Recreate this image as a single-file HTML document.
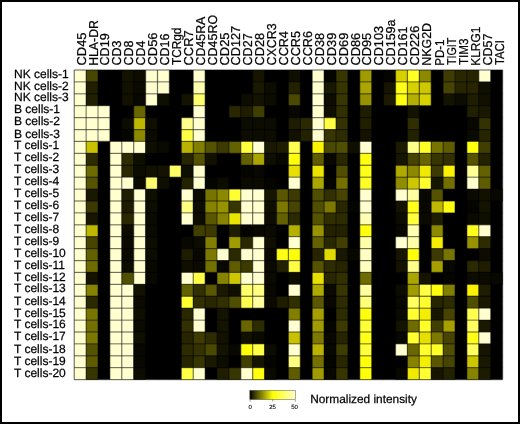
<!DOCTYPE html><html><head><meta charset="utf-8"><title>Heatmap</title><style>html,body{margin:0;padding:0;background:#fff}svg{display:block}text{font-family:"Liberation Sans",Arial,Helvetica,sans-serif;fill:#000;stroke:#000;stroke-width:0.25px;text-rendering:geometricPrecision}text.k{stroke-width:0.1px;fill:#000}</style></head><body>
<svg width="520" height="424" viewBox="0 0 520 424">
<rect x="0" y="0" width="520" height="424" fill="#000"/><rect x="2" y="2" width="516" height="420" fill="#fff"/>
<defs><linearGradient id="g" x1="0" x2="1" y1="0" y2="0"><stop offset="0" stop-color="#000"/><stop offset="0.5" stop-color="#ffff00"/><stop offset="1" stop-color="#ffffcc"/></linearGradient></defs>
<g>
<rect x="74.20" y="70.00" width="428.40" height="309.61" fill="#000"/>
<rect x="74.20" y="70.00" width="11.90" height="11.91" fill="#ffffd0"/>
<rect x="86.10" y="70.00" width="11.90" height="11.91" fill="#484600"/>
<rect x="121.80" y="70.00" width="11.90" height="11.91" fill="#141300"/>
<rect x="133.70" y="70.00" width="11.90" height="11.91" fill="#0c0c00"/>
<rect x="145.60" y="70.00" width="11.90" height="11.91" fill="#ffffd0"/>
<rect x="157.50" y="70.00" width="11.90" height="11.91" fill="#ffffd0"/>
<rect x="193.20" y="70.00" width="11.90" height="11.91" fill="#ffffd0"/>
<rect x="252.70" y="70.00" width="11.90" height="11.91" fill="#161500"/>
<rect x="288.40" y="70.00" width="11.90" height="11.91" fill="#0f0f00"/>
<rect x="312.20" y="70.00" width="11.90" height="11.91" fill="#ffffd0"/>
<rect x="324.10" y="70.00" width="11.90" height="11.91" fill="#050500"/>
<rect x="336.00" y="70.00" width="11.90" height="11.91" fill="#373500"/>
<rect x="359.80" y="70.00" width="11.90" height="11.91" fill="#a09b00"/>
<rect x="383.60" y="70.00" width="11.90" height="11.91" fill="#050500"/>
<rect x="395.50" y="70.00" width="11.90" height="11.91" fill="#d7d100"/>
<rect x="407.40" y="70.00" width="11.90" height="11.91" fill="#ffff23"/>
<rect x="419.30" y="70.00" width="11.90" height="11.91" fill="#8c8800"/>
<rect x="443.10" y="70.00" width="11.90" height="11.91" fill="#3e3c00"/>
<rect x="455.00" y="70.00" width="11.90" height="11.91" fill="#282700"/>
<rect x="466.90" y="70.00" width="11.90" height="11.91" fill="#262500"/>
<rect x="478.80" y="70.00" width="11.90" height="11.91" fill="#ffffd0"/>
<rect x="74.20" y="81.91" width="11.90" height="11.91" fill="#ffffd0"/>
<rect x="86.10" y="81.91" width="11.90" height="11.91" fill="#201f00"/>
<rect x="121.80" y="81.91" width="11.90" height="11.91" fill="#121100"/>
<rect x="133.70" y="81.91" width="11.90" height="11.91" fill="#0a0a00"/>
<rect x="145.60" y="81.91" width="11.90" height="11.91" fill="#ffffd0"/>
<rect x="157.50" y="81.91" width="11.90" height="11.91" fill="#ffffd0"/>
<rect x="193.20" y="81.91" width="11.90" height="11.91" fill="#ffffaf"/>
<rect x="252.70" y="81.91" width="11.90" height="11.91" fill="#191800"/>
<rect x="264.60" y="81.91" width="11.90" height="11.91" fill="#0c0c00"/>
<rect x="288.40" y="81.91" width="11.90" height="11.91" fill="#232200"/>
<rect x="312.20" y="81.91" width="11.90" height="11.91" fill="#ffffd0"/>
<rect x="324.10" y="81.91" width="11.90" height="11.91" fill="#191800"/>
<rect x="336.00" y="81.91" width="11.90" height="11.91" fill="#373500"/>
<rect x="359.80" y="81.91" width="11.90" height="11.91" fill="#aaa500"/>
<rect x="383.60" y="81.91" width="11.90" height="11.91" fill="#161500"/>
<rect x="395.50" y="81.91" width="11.90" height="11.91" fill="#ffff19"/>
<rect x="407.40" y="81.91" width="11.90" height="11.91" fill="#d7d100"/>
<rect x="419.30" y="81.91" width="11.90" height="11.91" fill="#cdc700"/>
<rect x="443.10" y="81.91" width="11.90" height="11.91" fill="#464400"/>
<rect x="455.00" y="81.91" width="11.90" height="11.91" fill="#262500"/>
<rect x="466.90" y="81.91" width="11.90" height="11.91" fill="#262500"/>
<rect x="478.80" y="81.91" width="11.90" height="11.91" fill="#0f0f00"/>
<rect x="74.20" y="93.82" width="11.90" height="11.91" fill="#ffffd0"/>
<rect x="86.10" y="93.82" width="11.90" height="11.91" fill="#201f00"/>
<rect x="121.80" y="93.82" width="11.90" height="11.91" fill="#121100"/>
<rect x="133.70" y="93.82" width="11.90" height="11.91" fill="#080800"/>
<rect x="145.60" y="93.82" width="11.90" height="11.91" fill="#ffffd0"/>
<rect x="157.50" y="93.82" width="11.90" height="11.91" fill="#0f0f00"/>
<rect x="181.30" y="93.82" width="11.90" height="11.91" fill="#141300"/>
<rect x="193.20" y="93.82" width="11.90" height="11.91" fill="#ffff6e"/>
<rect x="240.80" y="93.82" width="11.90" height="11.91" fill="#0c0c00"/>
<rect x="252.70" y="93.82" width="11.90" height="11.91" fill="#141300"/>
<rect x="264.60" y="93.82" width="11.90" height="11.91" fill="#0c0c00"/>
<rect x="288.40" y="93.82" width="11.90" height="11.91" fill="#4b4900"/>
<rect x="312.20" y="93.82" width="11.90" height="11.91" fill="#ffffd0"/>
<rect x="324.10" y="93.82" width="11.90" height="11.91" fill="#0c0c00"/>
<rect x="336.00" y="93.82" width="11.90" height="11.91" fill="#373500"/>
<rect x="359.80" y="93.82" width="11.90" height="11.91" fill="#969200"/>
<rect x="383.60" y="93.82" width="11.90" height="11.91" fill="#1c1b00"/>
<rect x="395.50" y="93.82" width="11.90" height="11.91" fill="#ffff0f"/>
<rect x="407.40" y="93.82" width="11.90" height="11.91" fill="#b4af00"/>
<rect x="419.30" y="93.82" width="11.90" height="11.91" fill="#d7d100"/>
<rect x="443.10" y="93.82" width="11.90" height="11.91" fill="#141300"/>
<rect x="455.00" y="93.82" width="11.90" height="11.91" fill="#0c0c00"/>
<rect x="466.90" y="93.82" width="11.90" height="11.91" fill="#1e1d00"/>
<rect x="478.80" y="93.82" width="11.90" height="11.91" fill="#121100"/>
<rect x="74.20" y="105.72" width="11.90" height="11.91" fill="#ffffd0"/>
<rect x="86.10" y="105.72" width="11.90" height="11.91" fill="#ffffd0"/>
<rect x="98.00" y="105.72" width="11.90" height="11.91" fill="#ffffd0"/>
<rect x="133.70" y="105.72" width="11.90" height="11.91" fill="#696600"/>
<rect x="193.20" y="105.72" width="11.90" height="11.91" fill="#ffffd0"/>
<rect x="228.90" y="105.72" width="11.90" height="11.91" fill="#282700"/>
<rect x="240.80" y="105.72" width="11.90" height="11.91" fill="#1e1d00"/>
<rect x="252.70" y="105.72" width="11.90" height="11.91" fill="#413f00"/>
<rect x="288.40" y="105.72" width="11.90" height="11.91" fill="#080800"/>
<rect x="312.20" y="105.72" width="11.90" height="11.91" fill="#ffffd0"/>
<rect x="324.10" y="105.72" width="11.90" height="11.91" fill="#0f0f00"/>
<rect x="336.00" y="105.72" width="11.90" height="11.91" fill="#323000"/>
<rect x="359.80" y="105.72" width="11.90" height="11.91" fill="#1e1d00"/>
<rect x="407.40" y="105.72" width="11.90" height="11.91" fill="#141300"/>
<rect x="466.90" y="105.72" width="11.90" height="11.91" fill="#201f00"/>
<rect x="478.80" y="105.72" width="11.90" height="11.91" fill="#191800"/>
<rect x="74.20" y="117.63" width="11.90" height="11.91" fill="#ffffd0"/>
<rect x="86.10" y="117.63" width="11.90" height="11.91" fill="#ffffd0"/>
<rect x="98.00" y="117.63" width="11.90" height="11.91" fill="#ffffd0"/>
<rect x="121.80" y="117.63" width="11.90" height="11.91" fill="#0c0c00"/>
<rect x="133.70" y="117.63" width="11.90" height="11.91" fill="#beb800"/>
<rect x="145.60" y="117.63" width="11.90" height="11.91" fill="#0f0f00"/>
<rect x="181.30" y="117.63" width="11.90" height="11.91" fill="#ffff8c"/>
<rect x="193.20" y="117.63" width="11.90" height="11.91" fill="#ffffd0"/>
<rect x="240.80" y="117.63" width="11.90" height="11.91" fill="#0c0c00"/>
<rect x="252.70" y="117.63" width="11.90" height="11.91" fill="#0c0c00"/>
<rect x="264.60" y="117.63" width="11.90" height="11.91" fill="#0c0c00"/>
<rect x="288.40" y="117.63" width="11.90" height="11.91" fill="#1e1d00"/>
<rect x="300.30" y="117.63" width="11.90" height="11.91" fill="#2a2900"/>
<rect x="312.20" y="117.63" width="11.90" height="11.91" fill="#ffffd0"/>
<rect x="324.10" y="117.63" width="11.90" height="11.91" fill="#ffff41"/>
<rect x="336.00" y="117.63" width="11.90" height="11.91" fill="#343200"/>
<rect x="359.80" y="117.63" width="11.90" height="11.91" fill="#201f00"/>
<rect x="407.40" y="117.63" width="11.90" height="11.91" fill="#302f00"/>
<rect x="466.90" y="117.63" width="11.90" height="11.91" fill="#080800"/>
<rect x="478.80" y="117.63" width="11.90" height="11.91" fill="#343200"/>
<rect x="74.20" y="129.54" width="11.90" height="11.91" fill="#ffffd0"/>
<rect x="86.10" y="129.54" width="11.90" height="11.91" fill="#ffffd0"/>
<rect x="98.00" y="129.54" width="11.90" height="11.91" fill="#ffffd0"/>
<rect x="121.80" y="129.54" width="11.90" height="11.91" fill="#050500"/>
<rect x="133.70" y="129.54" width="11.90" height="11.91" fill="#8c8800"/>
<rect x="145.60" y="129.54" width="11.90" height="11.91" fill="#0a0a00"/>
<rect x="181.30" y="129.54" width="11.90" height="11.91" fill="#ffff46"/>
<rect x="193.20" y="129.54" width="11.90" height="11.91" fill="#ffffd0"/>
<rect x="240.80" y="129.54" width="11.90" height="11.91" fill="#0c0c00"/>
<rect x="252.70" y="129.54" width="11.90" height="11.91" fill="#0c0c00"/>
<rect x="264.60" y="129.54" width="11.90" height="11.91" fill="#0c0c00"/>
<rect x="288.40" y="129.54" width="11.90" height="11.91" fill="#121100"/>
<rect x="300.30" y="129.54" width="11.90" height="11.91" fill="#232200"/>
<rect x="312.20" y="129.54" width="11.90" height="11.91" fill="#ffffd0"/>
<rect x="324.10" y="129.54" width="11.90" height="11.91" fill="#373500"/>
<rect x="336.00" y="129.54" width="11.90" height="11.91" fill="#2d2c00"/>
<rect x="359.80" y="129.54" width="11.90" height="11.91" fill="#141300"/>
<rect x="407.40" y="129.54" width="11.90" height="11.91" fill="#232200"/>
<rect x="466.90" y="129.54" width="11.90" height="11.91" fill="#0a0a00"/>
<rect x="478.80" y="129.54" width="11.90" height="11.91" fill="#262500"/>
<rect x="74.20" y="141.45" width="11.90" height="11.91" fill="#ffffd0"/>
<rect x="86.10" y="141.45" width="11.90" height="11.91" fill="#c8c200"/>
<rect x="109.90" y="141.45" width="11.90" height="11.91" fill="#ffffd0"/>
<rect x="121.80" y="141.45" width="11.90" height="11.91" fill="#ffffd0"/>
<rect x="133.70" y="141.45" width="11.90" height="11.91" fill="#ffffd0"/>
<rect x="145.60" y="141.45" width="11.90" height="11.91" fill="#0f0f00"/>
<rect x="157.50" y="141.45" width="11.90" height="11.91" fill="#0a0a00"/>
<rect x="181.30" y="141.45" width="11.90" height="11.91" fill="#b9b300"/>
<rect x="193.20" y="141.45" width="11.90" height="11.91" fill="#827e00"/>
<rect x="205.10" y="141.45" width="11.90" height="11.91" fill="#555200"/>
<rect x="217.00" y="141.45" width="11.90" height="11.91" fill="#3c3a00"/>
<rect x="228.90" y="141.45" width="11.90" height="11.91" fill="#646100"/>
<rect x="240.80" y="141.45" width="11.90" height="11.91" fill="#ffff3c"/>
<rect x="252.70" y="141.45" width="11.90" height="11.91" fill="#ffffd0"/>
<rect x="264.60" y="141.45" width="11.90" height="11.91" fill="#191800"/>
<rect x="276.50" y="141.45" width="11.90" height="11.91" fill="#1e1d00"/>
<rect x="288.40" y="141.45" width="11.90" height="11.91" fill="#ffff50"/>
<rect x="312.20" y="141.45" width="11.90" height="11.91" fill="#fcf400"/>
<rect x="324.10" y="141.45" width="11.90" height="11.91" fill="#4b4900"/>
<rect x="336.00" y="141.45" width="11.90" height="11.91" fill="#504e00"/>
<rect x="347.90" y="141.45" width="11.90" height="11.91" fill="#0f0f00"/>
<rect x="359.80" y="141.45" width="11.90" height="11.91" fill="#ffffd0"/>
<rect x="395.50" y="141.45" width="11.90" height="11.91" fill="#1c1b00"/>
<rect x="407.40" y="141.45" width="11.90" height="11.91" fill="#ffff8c"/>
<rect x="419.30" y="141.45" width="11.90" height="11.91" fill="#ffff28"/>
<rect x="431.20" y="141.45" width="11.90" height="11.91" fill="#787400"/>
<rect x="443.10" y="141.45" width="11.90" height="11.91" fill="#5f5c00"/>
<rect x="466.90" y="141.45" width="11.90" height="11.91" fill="#ffff0f"/>
<rect x="478.80" y="141.45" width="11.90" height="11.91" fill="#413f00"/>
<rect x="74.20" y="153.36" width="11.90" height="11.91" fill="#ffffd0"/>
<rect x="86.10" y="153.36" width="11.90" height="11.91" fill="#2d2c00"/>
<rect x="109.90" y="153.36" width="11.90" height="11.91" fill="#ffffd0"/>
<rect x="121.80" y="153.36" width="11.90" height="11.91" fill="#2d2c00"/>
<rect x="133.70" y="153.36" width="11.90" height="11.91" fill="#0f0f00"/>
<rect x="181.30" y="153.36" width="11.90" height="11.91" fill="#262500"/>
<rect x="193.20" y="153.36" width="11.90" height="11.91" fill="#555200"/>
<rect x="205.10" y="153.36" width="11.90" height="11.91" fill="#121100"/>
<rect x="240.80" y="153.36" width="11.90" height="11.91" fill="#646100"/>
<rect x="252.70" y="153.36" width="11.90" height="11.91" fill="#aaa500"/>
<rect x="264.60" y="153.36" width="11.90" height="11.91" fill="#0f0f00"/>
<rect x="276.50" y="153.36" width="11.90" height="11.91" fill="#080800"/>
<rect x="288.40" y="153.36" width="11.90" height="11.91" fill="#ffff0d"/>
<rect x="312.20" y="153.36" width="11.90" height="11.91" fill="#5f5c00"/>
<rect x="324.10" y="153.36" width="11.90" height="11.91" fill="#080800"/>
<rect x="336.00" y="153.36" width="11.90" height="11.91" fill="#282700"/>
<rect x="359.80" y="153.36" width="11.90" height="11.91" fill="#ffff11"/>
<rect x="395.50" y="153.36" width="11.90" height="11.91" fill="#161500"/>
<rect x="407.40" y="153.36" width="11.90" height="11.91" fill="#464400"/>
<rect x="419.30" y="153.36" width="11.90" height="11.91" fill="#696600"/>
<rect x="431.20" y="153.36" width="11.90" height="11.91" fill="#373500"/>
<rect x="443.10" y="153.36" width="11.90" height="11.91" fill="#323000"/>
<rect x="466.90" y="153.36" width="11.90" height="11.91" fill="#555200"/>
<rect x="478.80" y="153.36" width="11.90" height="11.91" fill="#232200"/>
<rect x="74.20" y="165.26" width="11.90" height="11.91" fill="#ffffd0"/>
<rect x="86.10" y="165.26" width="11.90" height="11.91" fill="#6e6b00"/>
<rect x="109.90" y="165.26" width="11.90" height="11.91" fill="#ffffd0"/>
<rect x="121.80" y="165.26" width="11.90" height="11.91" fill="#282700"/>
<rect x="133.70" y="165.26" width="11.90" height="11.91" fill="#0c0c00"/>
<rect x="145.60" y="165.26" width="11.90" height="11.91" fill="#121100"/>
<rect x="157.50" y="165.26" width="11.90" height="11.91" fill="#141300"/>
<rect x="169.40" y="165.26" width="11.90" height="11.91" fill="#ffff64"/>
<rect x="181.30" y="165.26" width="11.90" height="11.91" fill="#0f0f00"/>
<rect x="193.20" y="165.26" width="11.90" height="11.91" fill="#ffffd0"/>
<rect x="240.80" y="165.26" width="11.90" height="11.91" fill="#050500"/>
<rect x="252.70" y="165.26" width="11.90" height="11.91" fill="#080800"/>
<rect x="288.40" y="165.26" width="11.90" height="11.91" fill="#e6df00"/>
<rect x="312.20" y="165.26" width="11.90" height="11.91" fill="#ebe400"/>
<rect x="336.00" y="165.26" width="11.90" height="11.91" fill="#504e00"/>
<rect x="359.80" y="165.26" width="11.90" height="11.91" fill="#ffff17"/>
<rect x="395.50" y="165.26" width="11.90" height="11.91" fill="#afaa00"/>
<rect x="407.40" y="165.26" width="11.90" height="11.91" fill="#8c8800"/>
<rect x="419.30" y="165.26" width="11.90" height="11.91" fill="#f0e900"/>
<rect x="431.20" y="165.26" width="11.90" height="11.91" fill="#3c3a00"/>
<rect x="443.10" y="165.26" width="11.90" height="11.91" fill="#faf200"/>
<rect x="466.90" y="165.26" width="11.90" height="11.91" fill="#ffff96"/>
<rect x="478.80" y="165.26" width="11.90" height="11.91" fill="#646100"/>
<rect x="74.20" y="177.17" width="11.90" height="11.91" fill="#ffffd0"/>
<rect x="86.10" y="177.17" width="11.90" height="11.91" fill="#555200"/>
<rect x="109.90" y="177.17" width="11.90" height="11.91" fill="#ffffd0"/>
<rect x="121.80" y="177.17" width="11.90" height="11.91" fill="#ffffd0"/>
<rect x="133.70" y="177.17" width="11.90" height="11.91" fill="#0a0a00"/>
<rect x="145.60" y="177.17" width="11.90" height="11.91" fill="#ffff6e"/>
<rect x="157.50" y="177.17" width="11.90" height="11.91" fill="#0f0f00"/>
<rect x="181.30" y="177.17" width="11.90" height="11.91" fill="#232200"/>
<rect x="193.20" y="177.17" width="11.90" height="11.91" fill="#ffffd0"/>
<rect x="205.10" y="177.17" width="11.90" height="11.91" fill="#050500"/>
<rect x="217.00" y="177.17" width="11.90" height="11.91" fill="#0c0c00"/>
<rect x="240.80" y="177.17" width="11.90" height="11.91" fill="#0a0a00"/>
<rect x="252.70" y="177.17" width="11.90" height="11.91" fill="#0a0a00"/>
<rect x="264.60" y="177.17" width="11.90" height="11.91" fill="#050500"/>
<rect x="288.40" y="177.17" width="11.90" height="11.91" fill="#ffffd0"/>
<rect x="312.20" y="177.17" width="11.90" height="11.91" fill="#aaa500"/>
<rect x="324.10" y="177.17" width="11.90" height="11.91" fill="#050500"/>
<rect x="336.00" y="177.17" width="11.90" height="11.91" fill="#737000"/>
<rect x="359.80" y="177.17" width="11.90" height="11.91" fill="#ffff28"/>
<rect x="395.50" y="177.17" width="11.90" height="11.91" fill="#918d00"/>
<rect x="407.40" y="177.17" width="11.90" height="11.91" fill="#cdc700"/>
<rect x="419.30" y="177.17" width="11.90" height="11.91" fill="#ffff2d"/>
<rect x="431.20" y="177.17" width="11.90" height="11.91" fill="#161500"/>
<rect x="443.10" y="177.17" width="11.90" height="11.91" fill="#737000"/>
<rect x="466.90" y="177.17" width="11.90" height="11.91" fill="#ffffd0"/>
<rect x="478.80" y="177.17" width="11.90" height="11.91" fill="#5f5c00"/>
<rect x="74.20" y="189.08" width="11.90" height="11.91" fill="#ffffd0"/>
<rect x="86.10" y="189.08" width="11.90" height="11.91" fill="#191800"/>
<rect x="109.90" y="189.08" width="11.90" height="11.91" fill="#ffffd0"/>
<rect x="121.80" y="189.08" width="11.90" height="11.91" fill="#1e1d00"/>
<rect x="133.70" y="189.08" width="11.90" height="11.91" fill="#ffffd0"/>
<rect x="145.60" y="189.08" width="11.90" height="11.91" fill="#0f0f00"/>
<rect x="181.30" y="189.08" width="11.90" height="11.91" fill="#ffffd0"/>
<rect x="193.20" y="189.08" width="11.90" height="11.91" fill="#0a0a00"/>
<rect x="205.10" y="189.08" width="11.90" height="11.91" fill="#787400"/>
<rect x="217.00" y="189.08" width="11.90" height="11.91" fill="#8c8800"/>
<rect x="228.90" y="189.08" width="11.90" height="11.91" fill="#ffff32"/>
<rect x="240.80" y="189.08" width="11.90" height="11.91" fill="#ffffd0"/>
<rect x="252.70" y="189.08" width="11.90" height="11.91" fill="#ffffd0"/>
<rect x="264.60" y="189.08" width="11.90" height="11.91" fill="#161500"/>
<rect x="276.50" y="189.08" width="11.90" height="11.91" fill="#5a5700"/>
<rect x="288.40" y="189.08" width="11.90" height="11.91" fill="#3c3a00"/>
<rect x="312.20" y="189.08" width="11.90" height="11.91" fill="#504e00"/>
<rect x="324.10" y="189.08" width="11.90" height="11.91" fill="#323000"/>
<rect x="336.00" y="189.08" width="11.90" height="11.91" fill="#464400"/>
<rect x="359.80" y="189.08" width="11.90" height="11.91" fill="#ffffd0"/>
<rect x="395.50" y="189.08" width="11.90" height="11.91" fill="#ffffd0"/>
<rect x="407.40" y="189.08" width="11.90" height="11.91" fill="#ffffa0"/>
<rect x="419.30" y="189.08" width="11.90" height="11.91" fill="#080800"/>
<rect x="431.20" y="189.08" width="11.90" height="11.91" fill="#555200"/>
<rect x="466.90" y="189.08" width="11.90" height="11.91" fill="#0a0a00"/>
<rect x="478.80" y="189.08" width="11.90" height="11.91" fill="#121100"/>
<rect x="490.70" y="189.08" width="11.90" height="11.91" fill="#080800"/>
<rect x="74.20" y="200.99" width="11.90" height="11.91" fill="#ffffd0"/>
<rect x="86.10" y="200.99" width="11.90" height="11.91" fill="#3c3a00"/>
<rect x="109.90" y="200.99" width="11.90" height="11.91" fill="#ffffd0"/>
<rect x="121.80" y="200.99" width="11.90" height="11.91" fill="#1c1b00"/>
<rect x="133.70" y="200.99" width="11.90" height="11.91" fill="#ffffd0"/>
<rect x="145.60" y="200.99" width="11.90" height="11.91" fill="#0c0c00"/>
<rect x="181.30" y="200.99" width="11.90" height="11.91" fill="#ffff82"/>
<rect x="193.20" y="200.99" width="11.90" height="11.91" fill="#0c0c00"/>
<rect x="205.10" y="200.99" width="11.90" height="11.91" fill="#878300"/>
<rect x="217.00" y="200.99" width="11.90" height="11.91" fill="#969200"/>
<rect x="228.90" y="200.99" width="11.90" height="11.91" fill="#373500"/>
<rect x="240.80" y="200.99" width="11.90" height="11.91" fill="#ffffd0"/>
<rect x="252.70" y="200.99" width="11.90" height="11.91" fill="#ffffd0"/>
<rect x="264.60" y="200.99" width="11.90" height="11.91" fill="#0f0f00"/>
<rect x="276.50" y="200.99" width="11.90" height="11.91" fill="#7d7900"/>
<rect x="288.40" y="200.99" width="11.90" height="11.91" fill="#464400"/>
<rect x="312.20" y="200.99" width="11.90" height="11.91" fill="#504e00"/>
<rect x="324.10" y="200.99" width="11.90" height="11.91" fill="#7d7900"/>
<rect x="336.00" y="200.99" width="11.90" height="11.91" fill="#282700"/>
<rect x="347.90" y="200.99" width="11.90" height="11.91" fill="#050500"/>
<rect x="359.80" y="200.99" width="11.90" height="11.91" fill="#ffffd0"/>
<rect x="395.50" y="200.99" width="11.90" height="11.91" fill="#141300"/>
<rect x="407.40" y="200.99" width="11.90" height="11.91" fill="#ffff19"/>
<rect x="419.30" y="200.99" width="11.90" height="11.91" fill="#080800"/>
<rect x="431.20" y="200.99" width="11.90" height="11.91" fill="#beb800"/>
<rect x="443.10" y="200.99" width="11.90" height="11.91" fill="#ffff0d"/>
<rect x="466.90" y="200.99" width="11.90" height="11.91" fill="#050500"/>
<rect x="478.80" y="200.99" width="11.90" height="11.91" fill="#141300"/>
<rect x="74.20" y="212.90" width="11.90" height="11.91" fill="#ffffd0"/>
<rect x="86.10" y="212.90" width="11.90" height="11.91" fill="#161500"/>
<rect x="109.90" y="212.90" width="11.90" height="11.91" fill="#ffffd0"/>
<rect x="121.80" y="212.90" width="11.90" height="11.91" fill="#282700"/>
<rect x="133.70" y="212.90" width="11.90" height="11.91" fill="#ffffd0"/>
<rect x="145.60" y="212.90" width="11.90" height="11.91" fill="#0a0a00"/>
<rect x="181.30" y="212.90" width="11.90" height="11.91" fill="#ffffd0"/>
<rect x="193.20" y="212.90" width="11.90" height="11.91" fill="#0c0c00"/>
<rect x="205.10" y="212.90" width="11.90" height="11.91" fill="#5a5700"/>
<rect x="217.00" y="212.90" width="11.90" height="11.91" fill="#878300"/>
<rect x="228.90" y="212.90" width="11.90" height="11.91" fill="#ebe400"/>
<rect x="240.80" y="212.90" width="11.90" height="11.91" fill="#ffffd0"/>
<rect x="252.70" y="212.90" width="11.90" height="11.91" fill="#ffffd0"/>
<rect x="264.60" y="212.90" width="11.90" height="11.91" fill="#0c0c00"/>
<rect x="276.50" y="212.90" width="11.90" height="11.91" fill="#646100"/>
<rect x="288.40" y="212.90" width="11.90" height="11.91" fill="#2a2900"/>
<rect x="312.20" y="212.90" width="11.90" height="11.91" fill="#555200"/>
<rect x="324.10" y="212.90" width="11.90" height="11.91" fill="#302f00"/>
<rect x="336.00" y="212.90" width="11.90" height="11.91" fill="#2d2c00"/>
<rect x="359.80" y="212.90" width="11.90" height="11.91" fill="#ffffb4"/>
<rect x="395.50" y="212.90" width="11.90" height="11.91" fill="#0c0c00"/>
<rect x="407.40" y="212.90" width="11.90" height="11.91" fill="#ffff3c"/>
<rect x="419.30" y="212.90" width="11.90" height="11.91" fill="#0a0a00"/>
<rect x="431.20" y="212.90" width="11.90" height="11.91" fill="#1e1d00"/>
<rect x="466.90" y="212.90" width="11.90" height="11.91" fill="#0a0a00"/>
<rect x="478.80" y="212.90" width="11.90" height="11.91" fill="#0f0f00"/>
<rect x="74.20" y="224.80" width="11.90" height="11.91" fill="#ffffd0"/>
<rect x="86.10" y="224.80" width="11.90" height="11.91" fill="#beb800"/>
<rect x="109.90" y="224.80" width="11.90" height="11.91" fill="#ffffd0"/>
<rect x="121.80" y="224.80" width="11.90" height="11.91" fill="#0c0c00"/>
<rect x="133.70" y="224.80" width="11.90" height="11.91" fill="#ffffd0"/>
<rect x="145.60" y="224.80" width="11.90" height="11.91" fill="#0a0a00"/>
<rect x="193.20" y="224.80" width="11.90" height="11.91" fill="#413f00"/>
<rect x="205.10" y="224.80" width="11.90" height="11.91" fill="#3c3a00"/>
<rect x="228.90" y="224.80" width="11.90" height="11.91" fill="#1e1d00"/>
<rect x="240.80" y="224.80" width="11.90" height="11.91" fill="#050500"/>
<rect x="252.70" y="224.80" width="11.90" height="11.91" fill="#080800"/>
<rect x="264.60" y="224.80" width="11.90" height="11.91" fill="#0a0a00"/>
<rect x="288.40" y="224.80" width="11.90" height="11.91" fill="#b4af00"/>
<rect x="312.20" y="224.80" width="11.90" height="11.91" fill="#969200"/>
<rect x="324.10" y="224.80" width="11.90" height="11.91" fill="#232200"/>
<rect x="336.00" y="224.80" width="11.90" height="11.91" fill="#232200"/>
<rect x="359.80" y="224.80" width="11.90" height="11.91" fill="#ffff0d"/>
<rect x="395.50" y="224.80" width="11.90" height="11.91" fill="#080800"/>
<rect x="407.40" y="224.80" width="11.90" height="11.91" fill="#ffffaf"/>
<rect x="431.20" y="224.80" width="11.90" height="11.91" fill="#8c8800"/>
<rect x="466.90" y="224.80" width="11.90" height="11.91" fill="#ffff1e"/>
<rect x="478.80" y="224.80" width="11.90" height="11.91" fill="#ffffd0"/>
<rect x="74.20" y="236.71" width="11.90" height="11.91" fill="#ffffd0"/>
<rect x="86.10" y="236.71" width="11.90" height="11.91" fill="#464400"/>
<rect x="109.90" y="236.71" width="11.90" height="11.91" fill="#ffffd0"/>
<rect x="121.80" y="236.71" width="11.90" height="11.91" fill="#0a0a00"/>
<rect x="133.70" y="236.71" width="11.90" height="11.91" fill="#ffffd0"/>
<rect x="145.60" y="236.71" width="11.90" height="11.91" fill="#0c0c00"/>
<rect x="181.30" y="236.71" width="11.90" height="11.91" fill="#080800"/>
<rect x="193.20" y="236.71" width="11.90" height="11.91" fill="#0c0c00"/>
<rect x="205.10" y="236.71" width="11.90" height="11.91" fill="#827e00"/>
<rect x="228.90" y="236.71" width="11.90" height="11.91" fill="#a09b00"/>
<rect x="240.80" y="236.71" width="11.90" height="11.91" fill="#282700"/>
<rect x="252.70" y="236.71" width="11.90" height="11.91" fill="#ffffd0"/>
<rect x="264.60" y="236.71" width="11.90" height="11.91" fill="#0f0f00"/>
<rect x="288.40" y="236.71" width="11.90" height="11.91" fill="#ffffd0"/>
<rect x="312.20" y="236.71" width="11.90" height="11.91" fill="#646100"/>
<rect x="324.10" y="236.71" width="11.90" height="11.91" fill="#282700"/>
<rect x="336.00" y="236.71" width="11.90" height="11.91" fill="#413f00"/>
<rect x="359.80" y="236.71" width="11.90" height="11.91" fill="#ffffaa"/>
<rect x="395.50" y="236.71" width="11.90" height="11.91" fill="#ffffd0"/>
<rect x="407.40" y="236.71" width="11.90" height="11.91" fill="#ffffaa"/>
<rect x="431.20" y="236.71" width="11.90" height="11.91" fill="#f5ee00"/>
<rect x="466.90" y="236.71" width="11.90" height="11.91" fill="#969200"/>
<rect x="478.80" y="236.71" width="11.90" height="11.91" fill="#2d2c00"/>
<rect x="74.20" y="248.62" width="11.90" height="11.91" fill="#ffffd0"/>
<rect x="86.10" y="248.62" width="11.90" height="11.91" fill="#646100"/>
<rect x="109.90" y="248.62" width="11.90" height="11.91" fill="#ffffd0"/>
<rect x="121.80" y="248.62" width="11.90" height="11.91" fill="#0a0a00"/>
<rect x="133.70" y="248.62" width="11.90" height="11.91" fill="#ffffd0"/>
<rect x="145.60" y="248.62" width="11.90" height="11.91" fill="#0c0c00"/>
<rect x="181.30" y="248.62" width="11.90" height="11.91" fill="#1e1d00"/>
<rect x="193.20" y="248.62" width="11.90" height="11.91" fill="#080800"/>
<rect x="205.10" y="248.62" width="11.90" height="11.91" fill="#7d7900"/>
<rect x="217.00" y="248.62" width="11.90" height="11.91" fill="#ffffd0"/>
<rect x="228.90" y="248.62" width="11.90" height="11.91" fill="#2a2900"/>
<rect x="240.80" y="248.62" width="11.90" height="11.91" fill="#ffffd0"/>
<rect x="252.70" y="248.62" width="11.90" height="11.91" fill="#ffffd0"/>
<rect x="264.60" y="248.62" width="11.90" height="11.91" fill="#0a0a00"/>
<rect x="276.50" y="248.62" width="11.90" height="11.91" fill="#ffff14"/>
<rect x="288.40" y="248.62" width="11.90" height="11.91" fill="#ffff0a"/>
<rect x="312.20" y="248.62" width="11.90" height="11.91" fill="#262500"/>
<rect x="324.10" y="248.62" width="11.90" height="11.91" fill="#e1da00"/>
<rect x="336.00" y="248.62" width="11.90" height="11.91" fill="#191800"/>
<rect x="347.90" y="248.62" width="11.90" height="11.91" fill="#080800"/>
<rect x="359.80" y="248.62" width="11.90" height="11.91" fill="#ffffc3"/>
<rect x="395.50" y="248.62" width="11.90" height="11.91" fill="#161500"/>
<rect x="407.40" y="248.62" width="11.90" height="11.91" fill="#ffff0a"/>
<rect x="431.20" y="248.62" width="11.90" height="11.91" fill="#3c3a00"/>
<rect x="443.10" y="248.62" width="11.90" height="11.91" fill="#787400"/>
<rect x="478.80" y="248.62" width="11.90" height="11.91" fill="#0c0c00"/>
<rect x="74.20" y="260.53" width="11.90" height="11.91" fill="#ffffd0"/>
<rect x="86.10" y="260.53" width="11.90" height="11.91" fill="#6e6b00"/>
<rect x="109.90" y="260.53" width="11.90" height="11.91" fill="#ffffd0"/>
<rect x="121.80" y="260.53" width="11.90" height="11.91" fill="#0c0c00"/>
<rect x="133.70" y="260.53" width="11.90" height="11.91" fill="#ffffd0"/>
<rect x="145.60" y="260.53" width="11.90" height="11.91" fill="#080800"/>
<rect x="181.30" y="260.53" width="11.90" height="11.91" fill="#0f0f00"/>
<rect x="193.20" y="260.53" width="11.90" height="11.91" fill="#0a0a00"/>
<rect x="205.10" y="260.53" width="11.90" height="11.91" fill="#737000"/>
<rect x="217.00" y="260.53" width="11.90" height="11.91" fill="#080800"/>
<rect x="228.90" y="260.53" width="11.90" height="11.91" fill="#5f5c00"/>
<rect x="240.80" y="260.53" width="11.90" height="11.91" fill="#3c3a00"/>
<rect x="252.70" y="260.53" width="11.90" height="11.91" fill="#ffffd0"/>
<rect x="264.60" y="260.53" width="11.90" height="11.91" fill="#0a0a00"/>
<rect x="276.50" y="260.53" width="11.90" height="11.91" fill="#232200"/>
<rect x="288.40" y="260.53" width="11.90" height="11.91" fill="#ffff46"/>
<rect x="312.20" y="260.53" width="11.90" height="11.91" fill="#555200"/>
<rect x="324.10" y="260.53" width="11.90" height="11.91" fill="#2d2c00"/>
<rect x="336.00" y="260.53" width="11.90" height="11.91" fill="#262500"/>
<rect x="359.80" y="260.53" width="11.90" height="11.91" fill="#ffffbe"/>
<rect x="395.50" y="260.53" width="11.90" height="11.91" fill="#141300"/>
<rect x="407.40" y="260.53" width="11.90" height="11.91" fill="#ffff8c"/>
<rect x="431.20" y="260.53" width="11.90" height="11.91" fill="#a5a000"/>
<rect x="443.10" y="260.53" width="11.90" height="11.91" fill="#080800"/>
<rect x="466.90" y="260.53" width="11.90" height="11.91" fill="#2a2900"/>
<rect x="478.80" y="260.53" width="11.90" height="11.91" fill="#1e1d00"/>
<rect x="74.20" y="272.44" width="11.90" height="11.91" fill="#ffffd0"/>
<rect x="86.10" y="272.44" width="11.90" height="11.91" fill="#141300"/>
<rect x="109.90" y="272.44" width="11.90" height="11.91" fill="#ffffd0"/>
<rect x="121.80" y="272.44" width="11.90" height="11.91" fill="#504e00"/>
<rect x="133.70" y="272.44" width="11.90" height="11.91" fill="#ffffd0"/>
<rect x="145.60" y="272.44" width="11.90" height="11.91" fill="#080800"/>
<rect x="181.30" y="272.44" width="11.90" height="11.91" fill="#ffffd0"/>
<rect x="193.20" y="272.44" width="11.90" height="11.91" fill="#ffff46"/>
<rect x="217.00" y="272.44" width="11.90" height="11.91" fill="#878300"/>
<rect x="228.90" y="272.44" width="11.90" height="11.91" fill="#cdc700"/>
<rect x="240.80" y="272.44" width="11.90" height="11.91" fill="#ffffd0"/>
<rect x="252.70" y="272.44" width="11.90" height="11.91" fill="#ffffd0"/>
<rect x="264.60" y="272.44" width="11.90" height="11.91" fill="#0a0a00"/>
<rect x="288.40" y="272.44" width="11.90" height="11.91" fill="#0c0c00"/>
<rect x="312.20" y="272.44" width="11.90" height="11.91" fill="#e6df00"/>
<rect x="324.10" y="272.44" width="11.90" height="11.91" fill="#282700"/>
<rect x="336.00" y="272.44" width="11.90" height="11.91" fill="#323000"/>
<rect x="359.80" y="272.44" width="11.90" height="11.91" fill="#6e6b00"/>
<rect x="407.40" y="272.44" width="11.90" height="11.91" fill="#aaa500"/>
<rect x="419.30" y="272.44" width="11.90" height="11.91" fill="#141300"/>
<rect x="443.10" y="272.44" width="11.90" height="11.91" fill="#050500"/>
<rect x="466.90" y="272.44" width="11.90" height="11.91" fill="#0c0c00"/>
<rect x="478.80" y="272.44" width="11.90" height="11.91" fill="#0a0a00"/>
<rect x="490.70" y="272.44" width="11.90" height="11.91" fill="#080800"/>
<rect x="74.20" y="284.34" width="11.90" height="11.91" fill="#ffffd0"/>
<rect x="86.10" y="284.34" width="11.90" height="11.91" fill="#878300"/>
<rect x="109.90" y="284.34" width="11.90" height="11.91" fill="#ffffd0"/>
<rect x="121.80" y="284.34" width="11.90" height="11.91" fill="#ffffd0"/>
<rect x="133.70" y="284.34" width="11.90" height="11.91" fill="#121100"/>
<rect x="181.30" y="284.34" width="11.90" height="11.91" fill="#646100"/>
<rect x="193.20" y="284.34" width="11.90" height="11.91" fill="#323000"/>
<rect x="205.10" y="284.34" width="11.90" height="11.91" fill="#5a5700"/>
<rect x="217.00" y="284.34" width="11.90" height="11.91" fill="#191800"/>
<rect x="228.90" y="284.34" width="11.90" height="11.91" fill="#0f0f00"/>
<rect x="240.80" y="284.34" width="11.90" height="11.91" fill="#ffff6e"/>
<rect x="252.70" y="284.34" width="11.90" height="11.91" fill="#ffff82"/>
<rect x="264.60" y="284.34" width="11.90" height="11.91" fill="#080800"/>
<rect x="288.40" y="284.34" width="11.90" height="11.91" fill="#ffffd0"/>
<rect x="312.20" y="284.34" width="11.90" height="11.91" fill="#afaa00"/>
<rect x="324.10" y="284.34" width="11.90" height="11.91" fill="#0a0a00"/>
<rect x="336.00" y="284.34" width="11.90" height="11.91" fill="#373500"/>
<rect x="359.80" y="284.34" width="11.90" height="11.91" fill="#ffffa0"/>
<rect x="395.50" y="284.34" width="11.90" height="11.91" fill="#0c0c00"/>
<rect x="407.40" y="284.34" width="11.90" height="11.91" fill="#a09b00"/>
<rect x="419.30" y="284.34" width="11.90" height="11.91" fill="#ffff46"/>
<rect x="431.20" y="284.34" width="11.90" height="11.91" fill="#ffff0a"/>
<rect x="443.10" y="284.34" width="11.90" height="11.91" fill="#827e00"/>
<rect x="466.90" y="284.34" width="11.90" height="11.91" fill="#faf200"/>
<rect x="478.80" y="284.34" width="11.90" height="11.91" fill="#1e1d00"/>
<rect x="74.20" y="296.25" width="11.90" height="11.91" fill="#ffffd0"/>
<rect x="86.10" y="296.25" width="11.90" height="11.91" fill="#2a2900"/>
<rect x="109.90" y="296.25" width="11.90" height="11.91" fill="#ffffd0"/>
<rect x="121.80" y="296.25" width="11.90" height="11.91" fill="#ffffd0"/>
<rect x="133.70" y="296.25" width="11.90" height="11.91" fill="#0a0a00"/>
<rect x="181.30" y="296.25" width="11.90" height="11.91" fill="#ffff32"/>
<rect x="193.20" y="296.25" width="11.90" height="11.91" fill="#323000"/>
<rect x="205.10" y="296.25" width="11.90" height="11.91" fill="#282700"/>
<rect x="217.00" y="296.25" width="11.90" height="11.91" fill="#323000"/>
<rect x="228.90" y="296.25" width="11.90" height="11.91" fill="#504e00"/>
<rect x="240.80" y="296.25" width="11.90" height="11.91" fill="#ffff50"/>
<rect x="252.70" y="296.25" width="11.90" height="11.91" fill="#ffffa0"/>
<rect x="264.60" y="296.25" width="11.90" height="11.91" fill="#0a0a00"/>
<rect x="276.50" y="296.25" width="11.90" height="11.91" fill="#1e1d00"/>
<rect x="288.40" y="296.25" width="11.90" height="11.91" fill="#302f00"/>
<rect x="312.20" y="296.25" width="11.90" height="11.91" fill="#5a5700"/>
<rect x="324.10" y="296.25" width="11.90" height="11.91" fill="#080800"/>
<rect x="336.00" y="296.25" width="11.90" height="11.91" fill="#2d2c00"/>
<rect x="359.80" y="296.25" width="11.90" height="11.91" fill="#ffff78"/>
<rect x="395.50" y="296.25" width="11.90" height="11.91" fill="#080800"/>
<rect x="407.40" y="296.25" width="11.90" height="11.91" fill="#ffff5f"/>
<rect x="419.30" y="296.25" width="11.90" height="11.91" fill="#ffff2d"/>
<rect x="431.20" y="296.25" width="11.90" height="11.91" fill="#262500"/>
<rect x="443.10" y="296.25" width="11.90" height="11.91" fill="#2d2c00"/>
<rect x="466.90" y="296.25" width="11.90" height="11.91" fill="#504e00"/>
<rect x="478.80" y="296.25" width="11.90" height="11.91" fill="#191800"/>
<rect x="74.20" y="308.16" width="11.90" height="11.91" fill="#ffffd0"/>
<rect x="86.10" y="308.16" width="11.90" height="11.91" fill="#787400"/>
<rect x="109.90" y="308.16" width="11.90" height="11.91" fill="#ffffd0"/>
<rect x="121.80" y="308.16" width="11.90" height="11.91" fill="#ffffd0"/>
<rect x="133.70" y="308.16" width="11.90" height="11.91" fill="#0f0f00"/>
<rect x="181.30" y="308.16" width="11.90" height="11.91" fill="#282700"/>
<rect x="193.20" y="308.16" width="11.90" height="11.91" fill="#ffffd0"/>
<rect x="217.00" y="308.16" width="11.90" height="11.91" fill="#141300"/>
<rect x="288.40" y="308.16" width="11.90" height="11.91" fill="#827e00"/>
<rect x="312.20" y="308.16" width="11.90" height="11.91" fill="#a5a000"/>
<rect x="336.00" y="308.16" width="11.90" height="11.91" fill="#2d2c00"/>
<rect x="359.80" y="308.16" width="11.90" height="11.91" fill="#ffff0d"/>
<rect x="395.50" y="308.16" width="11.90" height="11.91" fill="#0a0a00"/>
<rect x="407.40" y="308.16" width="11.90" height="11.91" fill="#ffff32"/>
<rect x="419.30" y="308.16" width="11.90" height="11.91" fill="#f5ee00"/>
<rect x="431.20" y="308.16" width="11.90" height="11.91" fill="#161500"/>
<rect x="443.10" y="308.16" width="11.90" height="11.91" fill="#464400"/>
<rect x="466.90" y="308.16" width="11.90" height="11.91" fill="#ffff50"/>
<rect x="478.80" y="308.16" width="11.90" height="11.91" fill="#ffffd0"/>
<rect x="74.20" y="320.07" width="11.90" height="11.91" fill="#ffffd0"/>
<rect x="86.10" y="320.07" width="11.90" height="11.91" fill="#737000"/>
<rect x="109.90" y="320.07" width="11.90" height="11.91" fill="#ffffd0"/>
<rect x="121.80" y="320.07" width="11.90" height="11.91" fill="#ffffd0"/>
<rect x="133.70" y="320.07" width="11.90" height="11.91" fill="#0a0a00"/>
<rect x="181.30" y="320.07" width="11.90" height="11.91" fill="#323000"/>
<rect x="193.20" y="320.07" width="11.90" height="11.91" fill="#ffffd0"/>
<rect x="217.00" y="320.07" width="11.90" height="11.91" fill="#141300"/>
<rect x="240.80" y="320.07" width="11.90" height="11.91" fill="#696600"/>
<rect x="252.70" y="320.07" width="11.90" height="11.91" fill="#2d2c00"/>
<rect x="288.40" y="320.07" width="11.90" height="11.91" fill="#ffffd0"/>
<rect x="312.20" y="320.07" width="11.90" height="11.91" fill="#a09b00"/>
<rect x="324.10" y="320.07" width="11.90" height="11.91" fill="#050500"/>
<rect x="336.00" y="320.07" width="11.90" height="11.91" fill="#3c3a00"/>
<rect x="359.80" y="320.07" width="11.90" height="11.91" fill="#ffff37"/>
<rect x="395.50" y="320.07" width="11.90" height="11.91" fill="#141300"/>
<rect x="407.40" y="320.07" width="11.90" height="11.91" fill="#6e6b00"/>
<rect x="419.30" y="320.07" width="11.90" height="11.91" fill="#ffff28"/>
<rect x="431.20" y="320.07" width="11.90" height="11.91" fill="#413f00"/>
<rect x="443.10" y="320.07" width="11.90" height="11.91" fill="#a5a000"/>
<rect x="466.90" y="320.07" width="11.90" height="11.91" fill="#ffff64"/>
<rect x="478.80" y="320.07" width="11.90" height="11.91" fill="#191800"/>
<rect x="74.20" y="331.98" width="11.90" height="11.91" fill="#ffffd0"/>
<rect x="86.10" y="331.98" width="11.90" height="11.91" fill="#7d7900"/>
<rect x="109.90" y="331.98" width="11.90" height="11.91" fill="#ffffd0"/>
<rect x="121.80" y="331.98" width="11.90" height="11.91" fill="#ffffd0"/>
<rect x="133.70" y="331.98" width="11.90" height="11.91" fill="#0f0f00"/>
<rect x="181.30" y="331.98" width="11.90" height="11.91" fill="#262500"/>
<rect x="193.20" y="331.98" width="11.90" height="11.91" fill="#3e3c00"/>
<rect x="205.10" y="331.98" width="11.90" height="11.91" fill="#2d2c00"/>
<rect x="217.00" y="331.98" width="11.90" height="11.91" fill="#121100"/>
<rect x="240.80" y="331.98" width="11.90" height="11.91" fill="#121100"/>
<rect x="252.70" y="331.98" width="11.90" height="11.91" fill="#0a0a00"/>
<rect x="288.40" y="331.98" width="11.90" height="11.91" fill="#c8c200"/>
<rect x="312.20" y="331.98" width="11.90" height="11.91" fill="#7d7900"/>
<rect x="324.10" y="331.98" width="11.90" height="11.91" fill="#080800"/>
<rect x="336.00" y="331.98" width="11.90" height="11.91" fill="#262500"/>
<rect x="359.80" y="331.98" width="11.90" height="11.91" fill="#ffff17"/>
<rect x="395.50" y="331.98" width="11.90" height="11.91" fill="#080800"/>
<rect x="407.40" y="331.98" width="11.90" height="11.91" fill="#ffff32"/>
<rect x="419.30" y="331.98" width="11.90" height="11.91" fill="#e6df00"/>
<rect x="431.20" y="331.98" width="11.90" height="11.91" fill="#7d7900"/>
<rect x="443.10" y="331.98" width="11.90" height="11.91" fill="#464400"/>
<rect x="466.90" y="331.98" width="11.90" height="11.91" fill="#ffff17"/>
<rect x="478.80" y="331.98" width="11.90" height="11.91" fill="#ffffd0"/>
<rect x="74.20" y="343.88" width="11.90" height="11.91" fill="#ffffd0"/>
<rect x="86.10" y="343.88" width="11.90" height="11.91" fill="#555200"/>
<rect x="109.90" y="343.88" width="11.90" height="11.91" fill="#ffffd0"/>
<rect x="121.80" y="343.88" width="11.90" height="11.91" fill="#ffffd0"/>
<rect x="133.70" y="343.88" width="11.90" height="11.91" fill="#080800"/>
<rect x="181.30" y="343.88" width="11.90" height="11.91" fill="#2d2c00"/>
<rect x="193.20" y="343.88" width="11.90" height="11.91" fill="#343200"/>
<rect x="205.10" y="343.88" width="11.90" height="11.91" fill="#4b4900"/>
<rect x="217.00" y="343.88" width="11.90" height="11.91" fill="#141300"/>
<rect x="228.90" y="343.88" width="11.90" height="11.91" fill="#080800"/>
<rect x="240.80" y="343.88" width="11.90" height="11.91" fill="#ffff0a"/>
<rect x="252.70" y="343.88" width="11.90" height="11.91" fill="#ffff46"/>
<rect x="264.60" y="343.88" width="11.90" height="11.91" fill="#0c0c00"/>
<rect x="288.40" y="343.88" width="11.90" height="11.91" fill="#ffffd0"/>
<rect x="312.20" y="343.88" width="11.90" height="11.91" fill="#b9b300"/>
<rect x="324.10" y="343.88" width="11.90" height="11.91" fill="#080800"/>
<rect x="336.00" y="343.88" width="11.90" height="11.91" fill="#3e3c00"/>
<rect x="359.80" y="343.88" width="11.90" height="11.91" fill="#ffff3c"/>
<rect x="395.50" y="343.88" width="11.90" height="11.91" fill="#ffffd0"/>
<rect x="407.40" y="343.88" width="11.90" height="11.91" fill="#696600"/>
<rect x="419.30" y="343.88" width="11.90" height="11.91" fill="#ffff2d"/>
<rect x="431.20" y="343.88" width="11.90" height="11.91" fill="#ffff28"/>
<rect x="443.10" y="343.88" width="11.90" height="11.91" fill="#504e00"/>
<rect x="466.90" y="343.88" width="11.90" height="11.91" fill="#ffff5f"/>
<rect x="478.80" y="343.88" width="11.90" height="11.91" fill="#161500"/>
<rect x="74.20" y="355.79" width="11.90" height="11.91" fill="#ffffd0"/>
<rect x="86.10" y="355.79" width="11.90" height="11.91" fill="#5f5c00"/>
<rect x="109.90" y="355.79" width="11.90" height="11.91" fill="#ffffd0"/>
<rect x="121.80" y="355.79" width="11.90" height="11.91" fill="#ffffd0"/>
<rect x="133.70" y="355.79" width="11.90" height="11.91" fill="#080800"/>
<rect x="181.30" y="355.79" width="11.90" height="11.91" fill="#262500"/>
<rect x="193.20" y="355.79" width="11.90" height="11.91" fill="#373500"/>
<rect x="205.10" y="355.79" width="11.90" height="11.91" fill="#191800"/>
<rect x="217.00" y="355.79" width="11.90" height="11.91" fill="#0c0c00"/>
<rect x="240.80" y="355.79" width="11.90" height="11.91" fill="#413f00"/>
<rect x="252.70" y="355.79" width="11.90" height="11.91" fill="#161500"/>
<rect x="264.60" y="355.79" width="11.90" height="11.91" fill="#050500"/>
<rect x="288.40" y="355.79" width="11.90" height="11.91" fill="#ffff82"/>
<rect x="312.20" y="355.79" width="11.90" height="11.91" fill="#737000"/>
<rect x="324.10" y="355.79" width="11.90" height="11.91" fill="#050500"/>
<rect x="336.00" y="355.79" width="11.90" height="11.91" fill="#282700"/>
<rect x="359.80" y="355.79" width="11.90" height="11.91" fill="#ffff07"/>
<rect x="407.40" y="355.79" width="11.90" height="11.91" fill="#878300"/>
<rect x="419.30" y="355.79" width="11.90" height="11.91" fill="#f5ee00"/>
<rect x="431.20" y="355.79" width="11.90" height="11.91" fill="#5a5700"/>
<rect x="443.10" y="355.79" width="11.90" height="11.91" fill="#464400"/>
<rect x="466.90" y="355.79" width="11.90" height="11.91" fill="#cdc700"/>
<rect x="478.80" y="355.79" width="11.90" height="11.91" fill="#191800"/>
<rect x="74.20" y="367.70" width="11.90" height="11.91" fill="#ffffd0"/>
<rect x="86.10" y="367.70" width="11.90" height="11.91" fill="#373500"/>
<rect x="109.90" y="367.70" width="11.90" height="11.91" fill="#ffffd0"/>
<rect x="121.80" y="367.70" width="11.90" height="11.91" fill="#ffffd0"/>
<rect x="133.70" y="367.70" width="11.90" height="11.91" fill="#0c0c00"/>
<rect x="181.30" y="367.70" width="11.90" height="11.91" fill="#ffff46"/>
<rect x="193.20" y="367.70" width="11.90" height="11.91" fill="#ffffd0"/>
<rect x="217.00" y="367.70" width="11.90" height="11.91" fill="#1e1d00"/>
<rect x="228.90" y="367.70" width="11.90" height="11.91" fill="#373500"/>
<rect x="240.80" y="367.70" width="11.90" height="11.91" fill="#ffffd0"/>
<rect x="252.70" y="367.70" width="11.90" height="11.91" fill="#ffff0d"/>
<rect x="264.60" y="367.70" width="11.90" height="11.91" fill="#0a0a00"/>
<rect x="288.40" y="367.70" width="11.90" height="11.91" fill="#5f5c00"/>
<rect x="312.20" y="367.70" width="11.90" height="11.91" fill="#a09b00"/>
<rect x="324.10" y="367.70" width="11.90" height="11.91" fill="#080800"/>
<rect x="336.00" y="367.70" width="11.90" height="11.91" fill="#373500"/>
<rect x="359.80" y="367.70" width="11.90" height="11.91" fill="#ffff07"/>
<rect x="395.50" y="367.70" width="11.90" height="11.91" fill="#080800"/>
<rect x="407.40" y="367.70" width="11.90" height="11.91" fill="#f0e900"/>
<rect x="419.30" y="367.70" width="11.90" height="11.91" fill="#ffff32"/>
<rect x="431.20" y="367.70" width="11.90" height="11.91" fill="#161500"/>
<rect x="443.10" y="367.70" width="11.90" height="11.91" fill="#232200"/>
<rect x="466.90" y="367.70" width="11.90" height="11.91" fill="#878300"/>
<rect x="478.80" y="367.70" width="11.90" height="11.91" fill="#1c1b00"/>
</g>
<g stroke="#000" stroke-opacity="0.42" stroke-width="1.3">
<line x1="74.20" y1="70.00" x2="74.20" y2="379.61"/>
<line x1="86.10" y1="70.00" x2="86.10" y2="379.61"/>
<line x1="98.00" y1="70.00" x2="98.00" y2="379.61"/>
<line x1="109.90" y1="70.00" x2="109.90" y2="379.61"/>
<line x1="121.80" y1="70.00" x2="121.80" y2="379.61"/>
<line x1="133.70" y1="70.00" x2="133.70" y2="379.61"/>
<line x1="145.60" y1="70.00" x2="145.60" y2="379.61"/>
<line x1="157.50" y1="70.00" x2="157.50" y2="379.61"/>
<line x1="169.40" y1="70.00" x2="169.40" y2="379.61"/>
<line x1="181.30" y1="70.00" x2="181.30" y2="379.61"/>
<line x1="193.20" y1="70.00" x2="193.20" y2="379.61"/>
<line x1="205.10" y1="70.00" x2="205.10" y2="379.61"/>
<line x1="217.00" y1="70.00" x2="217.00" y2="379.61"/>
<line x1="228.90" y1="70.00" x2="228.90" y2="379.61"/>
<line x1="240.80" y1="70.00" x2="240.80" y2="379.61"/>
<line x1="252.70" y1="70.00" x2="252.70" y2="379.61"/>
<line x1="264.60" y1="70.00" x2="264.60" y2="379.61"/>
<line x1="276.50" y1="70.00" x2="276.50" y2="379.61"/>
<line x1="288.40" y1="70.00" x2="288.40" y2="379.61"/>
<line x1="300.30" y1="70.00" x2="300.30" y2="379.61"/>
<line x1="312.20" y1="70.00" x2="312.20" y2="379.61"/>
<line x1="324.10" y1="70.00" x2="324.10" y2="379.61"/>
<line x1="336.00" y1="70.00" x2="336.00" y2="379.61"/>
<line x1="347.90" y1="70.00" x2="347.90" y2="379.61"/>
<line x1="359.80" y1="70.00" x2="359.80" y2="379.61"/>
<line x1="371.70" y1="70.00" x2="371.70" y2="379.61"/>
<line x1="383.60" y1="70.00" x2="383.60" y2="379.61"/>
<line x1="395.50" y1="70.00" x2="395.50" y2="379.61"/>
<line x1="407.40" y1="70.00" x2="407.40" y2="379.61"/>
<line x1="419.30" y1="70.00" x2="419.30" y2="379.61"/>
<line x1="431.20" y1="70.00" x2="431.20" y2="379.61"/>
<line x1="443.10" y1="70.00" x2="443.10" y2="379.61"/>
<line x1="455.00" y1="70.00" x2="455.00" y2="379.61"/>
<line x1="466.90" y1="70.00" x2="466.90" y2="379.61"/>
<line x1="478.80" y1="70.00" x2="478.80" y2="379.61"/>
<line x1="490.70" y1="70.00" x2="490.70" y2="379.61"/>
<line x1="502.60" y1="70.00" x2="502.60" y2="379.61"/>
<line x1="74.20" y1="70.00" x2="502.60" y2="70.00"/>
<line x1="74.20" y1="81.91" x2="502.60" y2="81.91"/>
<line x1="74.20" y1="93.82" x2="502.60" y2="93.82"/>
<line x1="74.20" y1="105.72" x2="502.60" y2="105.72"/>
<line x1="74.20" y1="117.63" x2="502.60" y2="117.63"/>
<line x1="74.20" y1="129.54" x2="502.60" y2="129.54"/>
<line x1="74.20" y1="141.45" x2="502.60" y2="141.45"/>
<line x1="74.20" y1="153.36" x2="502.60" y2="153.36"/>
<line x1="74.20" y1="165.26" x2="502.60" y2="165.26"/>
<line x1="74.20" y1="177.17" x2="502.60" y2="177.17"/>
<line x1="74.20" y1="189.08" x2="502.60" y2="189.08"/>
<line x1="74.20" y1="200.99" x2="502.60" y2="200.99"/>
<line x1="74.20" y1="212.90" x2="502.60" y2="212.90"/>
<line x1="74.20" y1="224.80" x2="502.60" y2="224.80"/>
<line x1="74.20" y1="236.71" x2="502.60" y2="236.71"/>
<line x1="74.20" y1="248.62" x2="502.60" y2="248.62"/>
<line x1="74.20" y1="260.53" x2="502.60" y2="260.53"/>
<line x1="74.20" y1="272.44" x2="502.60" y2="272.44"/>
<line x1="74.20" y1="284.34" x2="502.60" y2="284.34"/>
<line x1="74.20" y1="296.25" x2="502.60" y2="296.25"/>
<line x1="74.20" y1="308.16" x2="502.60" y2="308.16"/>
<line x1="74.20" y1="320.07" x2="502.60" y2="320.07"/>
<line x1="74.20" y1="331.98" x2="502.60" y2="331.98"/>
<line x1="74.20" y1="343.88" x2="502.60" y2="343.88"/>
<line x1="74.20" y1="355.79" x2="502.60" y2="355.79"/>
<line x1="74.20" y1="367.70" x2="502.60" y2="367.70"/>
<line x1="74.20" y1="379.61" x2="502.60" y2="379.61"/>
</g>
<g opacity="0.995">
<g font-size="12.0">
<text x="14.0" y="78.27">NK cells-1</text>
<text x="14.0" y="89.68">NK cells-2</text>
<text x="14.0" y="100.97">NK cells-3</text>
<text x="14.0" y="112.60">B cells-1</text>
<text x="14.0" y="125.20">B cells-2</text>
<text x="14.0" y="137.80">B cells-3</text>
<text x="14.0" y="149.40">T cells-1</text>
<text x="14.0" y="161.10">T cells-2</text>
<text x="14.0" y="173.00">T cells-3</text>
<text x="14.0" y="185.20">T cells-4</text>
<text x="14.0" y="196.90">T cells-5</text>
<text x="14.0" y="209.00">T cells-6</text>
<text x="14.0" y="220.90">T cells-7</text>
<text x="14.0" y="232.80">T cells-8</text>
<text x="14.0" y="244.70">T cells-9</text>
<text x="14.0" y="256.75">T cells-10</text>
<text x="14.0" y="269.00">T cells-11</text>
<text x="14.0" y="280.70">T cells-12</text>
<text x="14.0" y="292.30">T cells-13</text>
<text x="14.0" y="304.60">T cells-14</text>
<text x="14.0" y="316.60">T cells-15</text>
<text x="14.0" y="328.10">T cells-16</text>
<text x="14.0" y="340.35">T cells-17</text>
<text x="14.0" y="352.60">T cells-18</text>
<text x="14.0" y="364.80">T cells-19</text>
<text x="14.0" y="377.10">T cells-20</text>
</g>
<g font-size="12.8">
<text transform="translate(85.60,65.50) rotate(-90) scale(1.0088,1.01)">CD45</text>
<text transform="translate(97.51,65.83) rotate(-90) scale(0.9591,1.01)">HLA-DR</text>
<text transform="translate(109.42,65.48) rotate(-90) scale(0.9811,1.01)">CD19</text>
<text transform="translate(121.33,65.47) rotate(-90) scale(0.9713,1.01)">CD3</text>
<text transform="translate(133.24,65.47) rotate(-90) scale(0.9713,1.01)">CD8</text>
<text transform="translate(145.15,65.47) rotate(-90) scale(0.9663,1.01)">CD4</text>
<text transform="translate(157.06,65.50) rotate(-90) scale(1.0088,1.01)">CD56</text>
<text transform="translate(168.97,65.48) rotate(-90) scale(0.9772,1.01)">CD16</text>
<text transform="translate(180.88,65.09) rotate(-90) scale(0.9250,1.01)">TCRgd</text>
<text transform="translate(192.79,65.50) rotate(-90) scale(1.0084,1.01)">CCR7</text>
<text transform="translate(204.70,65.47) rotate(-90) scale(0.9658,1.01)">CD45RA</text>
<text transform="translate(216.61,65.47) rotate(-90) scale(0.9749,1.01)">CD45RO</text>
<text transform="translate(228.52,65.50) rotate(-90) scale(1.0088,1.01)">CD25</text>
<text transform="translate(240.43,65.49) rotate(-90) scale(0.9945,1.01)">CD127</text>
<text transform="translate(252.34,65.48) rotate(-90) scale(0.9843,1.01)">CD27</text>
<text transform="translate(264.25,65.49) rotate(-90) scale(0.9993,1.01)">CD28</text>
<text transform="translate(276.16,65.47) rotate(-90) scale(0.9696,1.01)">CXCR3</text>
<text transform="translate(288.07,65.48) rotate(-90) scale(0.9860,1.01)">CCR4</text>
<text transform="translate(299.98,65.48) rotate(-90) scale(0.9897,1.01)">CCR5</text>
<text transform="translate(311.89,65.48) rotate(-90) scale(0.9897,1.01)">CCR6</text>
<text transform="translate(323.80,65.49) rotate(-90) scale(0.9993,1.01)">CD38</text>
<text transform="translate(335.71,65.49) rotate(-90) scale(1.0034,1.01)">CD39</text>
<text transform="translate(347.62,65.49) rotate(-90) scale(1.0034,1.01)">CD69</text>
<text transform="translate(359.53,65.49) rotate(-90) scale(0.9993,1.01)">CD86</text>
<text transform="translate(371.44,65.49) rotate(-90) scale(0.9993,1.01)">CD95</text>
<text transform="translate(383.35,65.48) rotate(-90) scale(0.9912,1.01)">CD103</text>
<text transform="translate(395.26,65.48) rotate(-90) scale(0.9812,1.01)">CD159a</text>
<text transform="translate(407.17,65.47) rotate(-90) scale(0.9764,1.01)">CD161</text>
<text transform="translate(419.08,65.49) rotate(-90) scale(0.9990,1.01)">CD226</text>
<text transform="translate(430.99,65.85) rotate(-90) scale(0.9733,1.01)">NKG2D</text>
<text transform="translate(443.55,65.77) rotate(-90) scale(0.9002,1.01)">PD-1</text>
<text transform="translate(455.54,65.06) rotate(-90) scale(0.8390,1.01)">TIGIT</text>
<text transform="translate(467.53,65.08) rotate(-90) scale(0.9072,1.01)">TIM3</text>
<text transform="translate(479.52,65.80) rotate(-90) scale(0.9316,1.01)">KLRG1</text>
<text transform="translate(491.51,65.48) rotate(-90) scale(0.9780,1.01)">CD57</text>
<text transform="translate(503.50,65.08) rotate(-90) scale(0.8835,1.01)">TACI</text>
</g>
<rect x="249.8" y="390.3" width="45.8" height="9.3" fill="url(#g)" stroke="#555" stroke-width="0.5"/>
<g stroke="#333" stroke-width="0.5"><line x1="250.1" y1="399.6" x2="250.1" y2="401.6"/><line x1="272.7" y1="399.6" x2="272.7" y2="401.6"/><line x1="295.3" y1="399.6" x2="295.3" y2="401.6"/></g>
<g font-size="6.05" text-anchor="middle"><text class="k" x="250.3" y="408.8">0</text><text class="k" x="272.6" y="408.8">25</text><text class="k" x="294.6" y="408.8">50</text></g>
<text x="310.2" y="403.3" font-size="11.86">Normalized intensity</text>
</g>
</svg></body></html>
